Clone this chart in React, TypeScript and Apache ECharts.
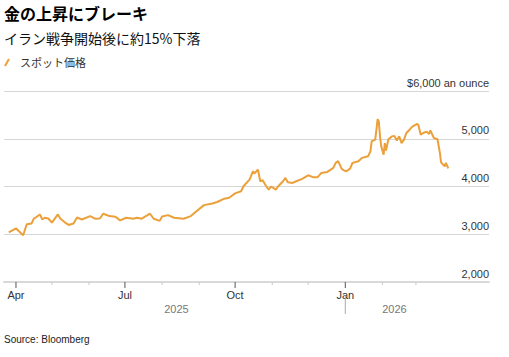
import React, { useEffect, useRef } from "react";
import * as echarts from "echarts";

const FONT = "'Liberation Sans', Arial, Helvetica, 'Noto Sans CJK JP', sans-serif";
const CJK = "'Noto Sans CJK JP', 'Liberation Sans', sans-serif";

const TITLE = "金の上昇にブレーキ";
const SUBTITLE = "イラン戦争開始後に約15%下落";
const SERIES_NAME = "スポット価格";
const SOURCE = "Source: Bloomberg";

const dates = [
  "2025-03-26", "2025-04-01", "2025-04-02", "2025-04-07", "2025-04-10", "2025-04-14", "2025-04-16", "2025-04-18",
  "2025-04-21", "2025-04-23", "2025-04-25", "2025-04-28", "2025-05-01", "2025-05-06", "2025-05-08", "2025-05-12",
  "2025-05-15", "2025-05-19", "2025-05-22", "2025-05-26", "2025-06-02", "2025-06-06", "2025-06-10", "2025-06-13",
  "2025-06-18", "2025-06-23", "2025-06-27", "2025-07-02", "2025-07-08", "2025-07-11", "2025-07-15", "2025-07-22",
  "2025-07-25", "2025-07-30", "2025-08-01", "2025-08-06", "2025-08-11", "2025-08-19", "2025-08-25", "2025-08-29",
  "2025-09-05", "2025-09-12", "2025-09-16", "2025-09-22", "2025-09-26", "2025-10-01", "2025-10-06", "2025-10-08",
  "2025-10-13", "2025-10-16", "2025-10-17", "2025-10-20", "2025-10-22", "2025-10-24", "2025-10-27", "2025-10-29",
  "2025-10-31", "2025-11-04", "2025-11-06", "2025-11-10", "2025-11-12", "2025-11-14", "2025-11-18", "2025-11-21",
  "2025-11-26", "2025-12-01", "2025-12-05", "2025-12-09", "2025-12-12", "2025-12-17", "2025-12-22", "2025-12-24",
  "2025-12-26", "2025-12-29", "2025-12-31", "2026-01-02", "2026-01-05", "2026-01-07", "2026-01-12", "2026-01-15",
  "2026-01-20", "2026-01-22", "2026-01-23", "2026-01-26", "2026-01-27", "2026-01-28", "2026-01-29", "2026-01-30",
  "2026-01-31", "2026-02-02", "2026-02-03", "2026-02-04", "2026-02-06", "2026-02-09", "2026-02-11", "2026-02-13",
  "2026-02-15", "2026-02-17", "2026-02-19", "2026-02-21", "2026-02-24", "2026-02-26", "2026-03-02", "2026-03-03",
  "2026-03-05", "2026-03-07", "2026-03-10", "2026-03-12", "2026-03-13", "2026-03-16", "2026-03-19", "2026-03-21",
  "2026-03-22", "2026-03-25", "2026-03-26", "2026-03-28",
];

const prices = [
  3040, 3125, 3100, 2980, 3210, 3225, 3330, 3360,
  3415, 3310, 3345, 3330, 3245, 3415, 3330, 3245,
  3195, 3225, 3350, 3310, 3380, 3325, 3330, 3430,
  3380, 3365, 3290, 3345, 3325, 3345, 3325, 3430,
  3325, 3280, 3370, 3400, 3345, 3325, 3380, 3465,
  3610, 3645, 3675, 3745, 3765, 3855, 3900, 4005,
  4145, 4320, 4270, 4355, 4110, 4130, 4005, 3935,
  4000, 3935, 4005, 4110, 4180, 4090, 4075, 4110,
  4160, 4235, 4195, 4195, 4285, 4305, 4390, 4495,
  4530, 4370, 4335, 4320, 4375, 4495, 4530, 4600,
  4635, 4735, 4945, 4980, 5190, 5410, 5360, 5050,
  4840, 4665, 4910, 4755, 4990, 5050, 5060, 4965,
  5050, 4910, 4980, 5120, 5200, 5255, 5310, 5290,
  5085, 5120, 5150, 5100, 5175, 5015, 4990, 4700,
  4505, 4420, 4495, 4380,
];

const monthTicks = [
  "2025-04-01", "2025-05-01", "2025-06-01", "2025-07-01", "2025-08-01", "2025-09-01",
  "2025-10-01", "2025-11-01", "2025-12-01", "2026-01-01", "2026-02-01", "2026-03-01",
];
const monthLabels = ["Apr", "", "", "Jul", "", "", "Oct", "", "", "Jan", "", ""];

const yearLabels = ["2025", "2026"];
const yearLabelDates = ["2025-08-13", "2026-02-11"];
const yearBreak = "2026-01-01";

const X_MIN = "2025-03-22";
const X_MAX = "2026-05-01";
const Y_MIN = 2000;
const Y_MAX = 6000;
const Y_STEP = 1000;

export default function App() {
  const ref = useRef<HTMLDivElement>(null);

  useEffect(() => {
    if (!ref.current) return;
    const chart = echarts.init(ref.current, undefined, { renderer: "svg" });

    const option: any = {
      animation: false,
      backgroundColor: "#ffffff",
      grid: { left: 4, right: 20, top: 91, bottom: 75, containLabel: false },
      xAxis: {
        type: "time",
        min: X_MIN,
        max: X_MAX,
        axisLine: { show: true, lineStyle: { color: "#d9d9d9", width: 2 } },
        axisTick: { show: false },
        axisLabel: { show: false },
        splitLine: { show: false },
      },
      yAxis: {
        type: "value",
        position: "right",
        min: Y_MIN,
        max: Y_MAX,
        interval: Y_STEP,
        axisLine: { show: false },
        axisTick: { show: false },
        splitLine: { show: true, lineStyle: { color: "#d6d6d6", width: 1 } },
        axisLabel: {
          inside: true,
          align: "right",
          verticalAlign: "bottom",
          margin: 0,
          padding: [0, 0, 3, 0],
          color: "#333",
          fontSize: 11,
          fontFamily: FONT,
          formatter: (v: number) => {
            const s = v.toLocaleString("en-US");
            return v === Y_MAX ? `$${s} an ounce` : s;
          },
        },
      },
      graphic: [
        {
          type: "text",
          x: 4,
          y: 13,
          style: {
            text: TITLE,
            fontSize: 16,
            fontWeight: "bold",
            fontFamily: CJK,
            fill: "#000",
            verticalAlign: "middle",
          },
        },
        {
          type: "text",
          x: 4,
          y: 38,
          style: {
            text: SUBTITLE,
            fontSize: 14,
            fontFamily: CJK,
            fill: "#111",
            verticalAlign: "middle",
          },
        },
        {
          type: "line",
          shape: { x1: 5, y1: 66, x2: 9, y2: 59 },
          style: { stroke: "#eba03a", lineWidth: 2 },
        },
        {
          type: "text",
          x: 20,
          y: 62,
          style: {
            text: SERIES_NAME,
            fontSize: 11,
            fontFamily: CJK,
            fill: "#333",
            verticalAlign: "middle",
          },
        },
        {
          type: "text",
          x: 4,
          y: 339,
          style: {
            text: SOURCE,
            fontSize: 10,
            fontFamily: FONT,
            fill: "#222",
            verticalAlign: "middle",
          },
        },
      ],
      series: [
        {
          name: SERIES_NAME,
          type: "line",
          data: dates.map((d, i) => [d, prices[i]]),
          showSymbol: false,
          symbol: "none",
          lineStyle: { color: "#eba03a", width: 2 },
          itemStyle: { color: "#eba03a" },
          z: 5,
        },
        {
          type: "custom",
          clip: false,
          silent: true,
          data: monthTicks.map((d) => [d, Y_MIN]),
          renderItem: (params: any, api: any) => {
            const p = api.coord([api.value(0), Y_MIN]);
            const label = monthLabels[params.dataIndex];
            const major = label !== "";
            const children: any[] = [
              {
                type: "line",
                shape: { x1: p[0], y1: p[1], x2: p[0], y2: p[1] + (major ? 6 : 3) },
                style: { stroke: major ? "#555" : "#c8c8c8", lineWidth: 1 },
              },
            ];
            if (major) {
              children.push({
                type: "text",
                x: p[0],
                y: p[1] + 13,
                style: {
                  text: label,
                  fontSize: 11,
                  fontFamily: FONT,
                  fill: "#333",
                  align: "center",
                  verticalAlign: "middle",
                },
              });
            }
            return { type: "group", children };
          },
          z: 6,
        },
        {
          type: "custom",
          clip: false,
          silent: true,
          data: yearLabelDates.map((d) => [d, Y_MIN]),
          renderItem: (params: any, api: any) => {
            const p = api.coord([api.value(0), Y_MIN]);
            return {
              type: "text",
              x: p[0],
              y: p[1] + 27,
              style: {
                text: yearLabels[params.dataIndex],
                fontSize: 11,
                fontFamily: FONT,
                fill: "#777",
                align: "center",
                verticalAlign: "middle",
              },
            };
          },
          z: 6,
        },
        {
          type: "custom",
          clip: false,
          silent: true,
          data: [[yearBreak, Y_MIN]],
          renderItem: (params: any, api: any) => {
            const p = api.coord([api.value(0), Y_MIN]);
            return {
              type: "line",
              shape: { x1: p[0], y1: p[1] + 14, x2: p[0], y2: p[1] + 32 },
              style: { stroke: "#aaa", lineWidth: 1 },
            };
          },
          z: 6,
        },
      ],
    };

    chart.setOption(option);
    return () => chart.dispose();
  }, []);

  return (
    <div
      ref={ref}
      style={{ position: "fixed", left: 0, top: 0, width: 509, height: 357, background: "#fff" }}
    />
  );
}
